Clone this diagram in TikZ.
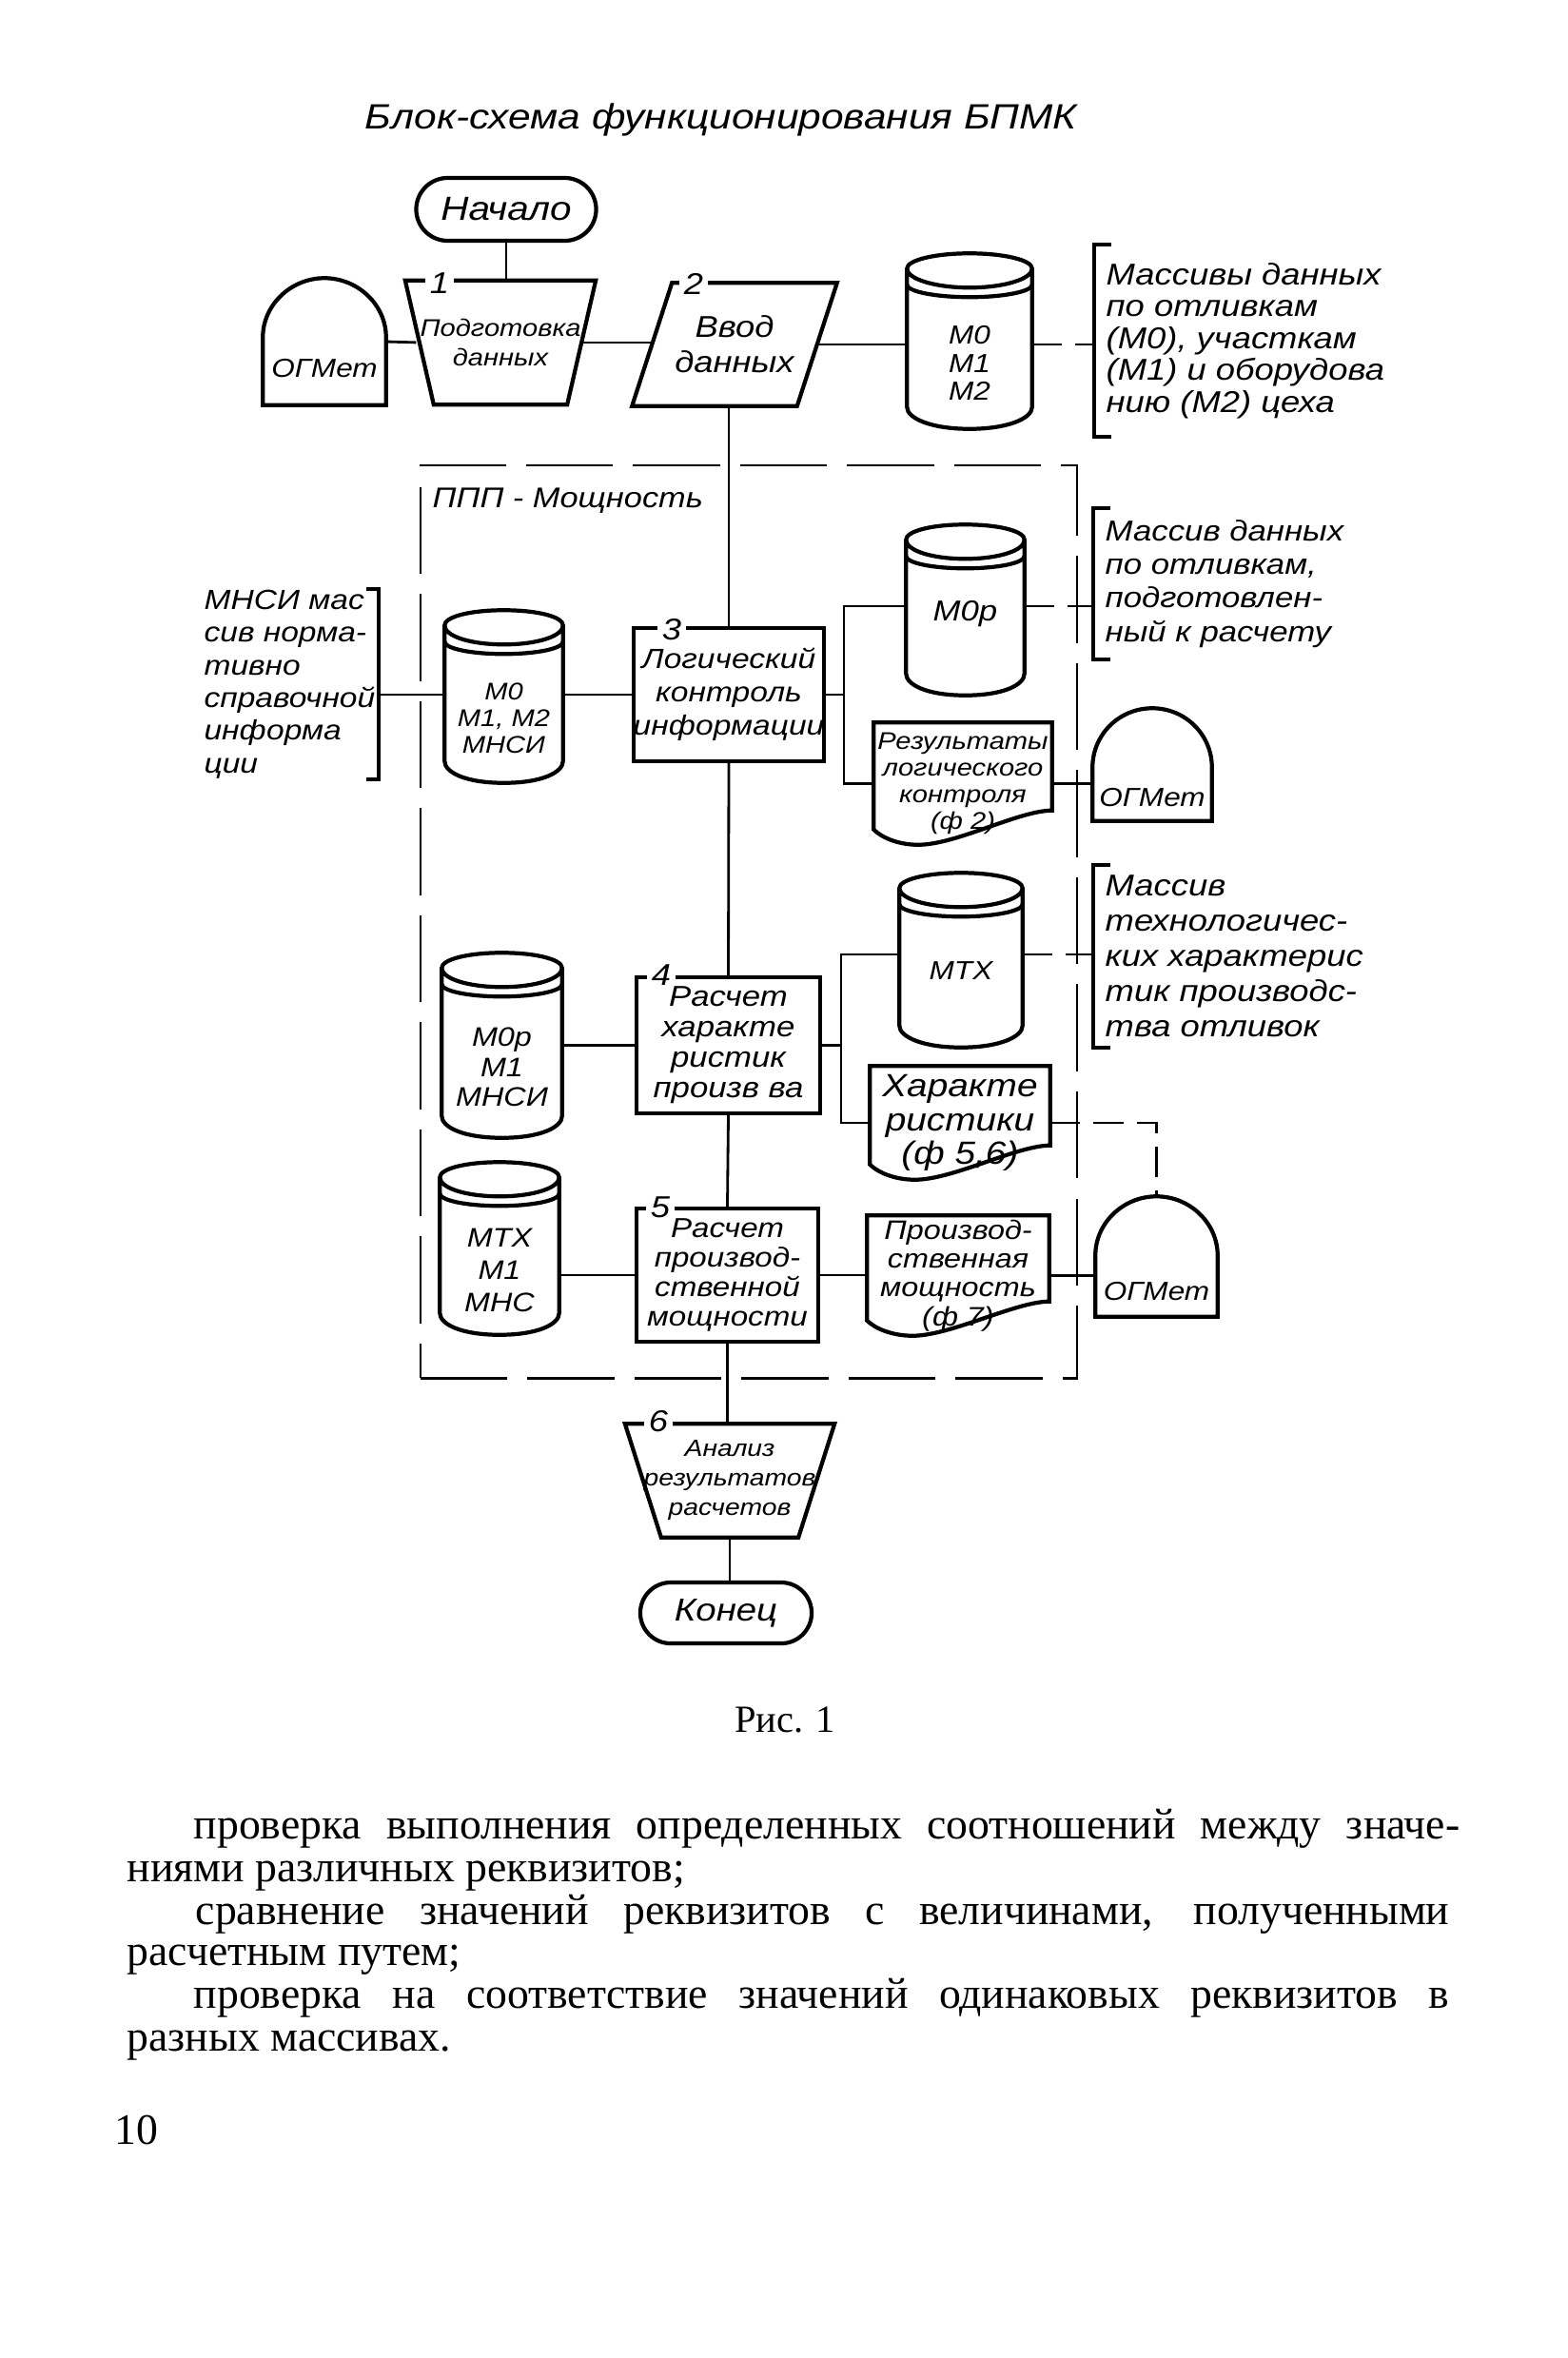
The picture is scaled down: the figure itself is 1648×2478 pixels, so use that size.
\documentclass[tikz,border=0pt]{standalone}
\usepackage{fontspec}
\setmainfont{Liberation Serif}
\newfontfamily\gostfont[FakeStretch=1.15]{Liberation Sans}
\usetikzlibrary{calc, positioning, shapes.misc}

\newcommand{\hf}[2]{\gostfont\itshape\fontsize{#1}{#2}\selectfont}

\tikzset{
  outline/.style={line width=1.2pt},
  link/.style={line width=0.8pt},
  dashlink/.style={line width=0.8pt, dash pattern=on 9pt off 4pt},
  bracket/.style={line width=1.1pt},
  pppbox/.style={draw, line width=0.7pt, dash pattern=on 26pt off 6pt},
  hand/.style={font=\hf{9.3}{10}},
  lines/.style={hand, align=center},
  term/.style={hand, draw, outline, rounded rectangle, font=\hf{10}{11}},
  proc/.style={lines, draw, outline},
  dome/.style={font=\hf{7.8}{9}, text depth=0pt},
  note/.style={align=left, inner xsep=0.12cm},
  num/.style={font=\hf{9}{10}, fill=white, inner xsep=1.5pt, inner ysep=0pt},
  body/.style={font=\fontsize{13}{15}\selectfont, anchor=base west},
}

\begin{document}
\begin{tikzpicture}[x=0.01cm, y=-0.01cm, every node/.style={inner sep=0pt}]
\useasboundingbox (0,0) rectangle (1648,2478);

\node[hand, font=\hf{10.5}{12}] (head) at (758,126) {Блок-схема функционирования БПМК};

% frame of the package
\node[pppbox, minimum width=6.90cm, minimum height=9.59cm] (ppp) at (787,968.5) {};
\node[hand, font=\hf{8.5}{10}, anchor=west] (ppptitle) at (454,526) {ППП - Мощность};

% top row
\node[term, minimum width=1.89cm, minimum height=0.66cm] (start) at (532,220) {Начало};
\node[lines, font=\hf{7.2}{9}, minimum width=1.55cm, minimum height=1.29cm] (b1) at (526,360) {Подготовка\\данных};
\node[lines, font=\hf{9}{10.5}, minimum width=1.72cm, minimum height=1.28cm] (b2) at (772,362) {Ввод\\данных};
\node[lines, font=\hf{7.8}{8.3}, minimum width=1.30cm, minimum height=1.37cm] (c1) at (1019,381.5) {М0\\М1\\М2};
\node[dome, text height=0.74cm, minimum width=1.28cm, minimum height=1.32cm] (og1) at (341,359) {ОГМет};
\node[note, hand, font=\hf{9}{9.5}, anchor=west, minimum height=2.0cm] (n1) at (1150,358)
  {Массивы данных\\по отливкам\\(М0), участкам\\(М1) и оборудова\\нию (М2) цеха};

% block 3
\node[note, hand, font=\hf{8.3}{9.8}, inner xsep=0.03cm, anchor=east] (mnsi) at (398,719)
  {МНСИ мас\\сив норма-\\тивно\\справочной\\информа\\ции};
\node[lines, font=\hf{7.2}{8}, minimum width=1.23cm, minimum height=1.34cm] (c2) at (529.5,755) {М0\\М1, М2\\МНСИ};
\node[proc, font=\hf{8.3}{10}, minimum width=1.90cm, minimum height=1.40cm] (b3) at (766,730) {Логический\\контроль\\информации};
\node[hand, font=\hf{8.6}{10}, text height=0.2cm, text depth=0.44cm, minimum width=1.23cm, minimum height=1.32cm] (mop) at (1014.5,664) {М0р};
\node[note, hand, font=\hf{8.6}{10}, anchor=west, minimum height=1.57cm] (n2) at (1149,613.5)
  {Массив данных\\по отливкам,\\подготовлен-\\ный к расчету};
\node[lines, font=\hf{7.2}{8}, minimum width=1.86cm, minimum height=1.27cm] (d1) at (1012,823.5) {Результаты\\логического\\контроля\\(ф 2)};
\node[dome, text height=0.87cm, minimum width=1.24cm, minimum height=1.17cm] (og2) at (1211,803.5) {ОГМет};

% block 4
\node[lines, font=\hf{8}{9}, minimum width=1.25cm, minimum height=1.47cm] (c3) at (527.5,1121.5) {М0р\\М1\\МНСИ};
\node[proc, font=\hf{8.6}{9.1}, minimum width=1.93cm, minimum height=1.43cm] (b4) at (765.5,1098.5) {Расчет\\характе\\ристик\\произв ва};
\node[hand, font=\hf{7.8}{9}, text height=0.2cm, text depth=0.26cm, minimum width=1.28cm, minimum height=1.36cm] (mtx) at (1010,1032) {МТХ};
\node[note, hand, font=\hf{9}{10.5}, anchor=west, minimum height=1.90cm] (n3) at (1149,1005)
  {Массив\\технологичес-\\ких характерис\\тик производс-\\тва отливок};
\node[lines, font=\hf{9.6}{10.2}, minimum width=1.88cm, minimum height=1.18cm] (d2) at (1009,1180) {Характе\\ристики\\(ф 5,6)};

% block 5
\node[lines, font=\hf{8}{9.7}, minimum width=1.24cm, minimum height=1.34cm] (c4) at (525,1335) {МТХ\\М1\\МНС};
\node[proc, font=\hf{8.2}{8.8}, minimum width=1.91cm, minimum height=1.40cm] (b5) at (764.5,1340) {Расчет\\производ-\\ственной\\мощности};
\node[lines, font=\hf{8}{8.6}, minimum width=1.90cm, minimum height=1.25cm] (d3) at (1007,1340.5) {Производ-\\ственная\\мощность\\(ф 7)};
\node[dome, text height=0.91cm, minimum width=1.27cm, minimum height=1.25cm] (og3) at (1215.5,1320.5) {ОГМет};

% exit
\node[lines, font=\hf{7}{8.8}, minimum width=1.715cm, minimum height=1.18cm] (b6) at (767,1556) {Анализ\\результатов\\расчетов};
\node[term, font=\hf{9.5}{11}, minimum width=1.80cm, minimum height=0.64cm] (stop) at (763,1695) {Конец};

% outlines
\foreach \n/\dx in {b1/15, b6/19}
  \draw[outline] ($(\n.north west)+(-\dx,0)$) -- ($(\n.north east)+(\dx,0)$)
    -- ($(\n.south east)+(-\dx,0)$) -- ($(\n.south west)+(\dx,0)$) -- cycle;
\draw[outline] ($(b2.north west)+(21,0)$) -- ($(b2.north east)+(21,0)$)
  -- ($(b2.south east)+(-21,0)$) -- ($(b2.south west)+(-21,0)$) -- cycle;
\foreach \n in {c1,c2,c3,c4,mop,mtx}{
  \draw[outline] ($(\n.north west)+(0,-30)$) -- ($(\n.south west)+(0,-23)$)
    .. controls +(0,12) and +(-40,0) .. (\n.south)
    .. controls +(40,0) and +(0,12) .. ($(\n.south east)+(0,-23)$)
    -- ($(\n.north east)+(0,-30)$)
    .. controls +(0,-9) and +(36,0) .. ($(\n.north)+(0,-46)$)
    .. controls +(-36,0) and +(0,-9) .. ($(\n.north west)+(0,-30)$)
    .. controls +(0,11) and +(-36,0) .. ($(\n.north)+(0,-10)$)
    .. controls +(36,0) and +(0,11) .. ($(\n.north east)+(0,-30)$);
  \draw[outline] ($(\n.north west)+(0,-13)$) .. controls +(0,7) and +(-36,0) .. (\n.north)
    .. controls +(36,0) and +(0,7) .. ($(\n.north east)+(0,-13)$);
}
\foreach \n in {og1,og2,og3}
  \draw[outline] (\n.south west) -- ($(\n.north west)+(0,62)$)
    .. controls +(0,-34) and +(-35,0) .. (\n.north)
    .. controls +(35,0) and +(0,-34) .. ($(\n.north east)+(0,62)$)
    -- (\n.south east) -- cycle;
\foreach \n in {d1,d2,d3}
  \draw[outline] ($(\n.south west)+(0,-16)$) -- (\n.north west) -- (\n.north east)
    -- ($(\n.south east)+(0,-36)$)
    .. controls +(-35,0) and +(40,0) .. ($(\n.south west)!0.25!(\n.south east)$)
    .. controls +(-22,0) and +(8,8) .. ($(\n.south west)+(0,-16)$) -- cycle;
\foreach \n in {n1,n2,n3}
  \draw[bracket] ($(\n.north west)+(18,0)$) -- (\n.north west) -- (\n.south west) -- ($(\n.south west)+(18,0)$);
\draw[bracket] ($(mnsi.north east)+(-13,0)$) -- (mnsi.north east) -- (mnsi.south east) -- ($(mnsi.south east)+(-13,0)$);

% block numbers
\node[num] (k1) at (462,298) {1};
\node[num] (k2) at (729,298) {2};
\node[num] (k3) at (706,662) {3};
\node[num] (k4) at (695,1025) {4};
\node[num] (k5) at (694,1269) {5};
\node[num] (k6) at (692,1494) {6};

% connections
\draw[link] (start.south) -- (start.south |- b1.north);
\draw[dashlink] (og1.east) -- (b1.west);
\draw[link] (b1.east) -- (b1.east -| b2.west);
\draw[link] (b2.east) -- (b2.east -| c1.west);
\draw[dashlink] (c1.east |- b2.east) -- (n1.west |- b2.east);
\draw[link] (b2.south -| b3.north) -- (b3.north);
\draw[link] (mnsi.east |- b3.west) -- (c2.west |- b3.west);
\draw[link] (c2.east |- b3.west) -- (b3.west);
\coordinate (f3) at (887,637);
\draw[link] (b3.east) -- (b3.east -| f3);
\draw[link] (mop.west |- f3) -- (f3) -- (f3 |- d1.west) -- (d1.west);
\draw[dashlink] (mop.east |- f3) -- (n2.west |- f3);
\draw[link] (d1.east) -- (d1.east -| og2.west);
\draw[link] (b3.south) -- (b4.north);
\draw[link] (c3.east |- b4.west) -- (b4.west);
\coordinate (f4) at (884,1003);
\draw[link] (b4.east) -- (b4.east -| f4);
\draw[link] (mtx.west |- f4) -- (f4) -- (f4 |- d2.west) -- (d2.west);
\draw[dashlink] (mtx.east |- f4) -- (n3.west |- f4);
\draw[dashlink] (d2.east) -- (d2.east -| og3.north) -- (og3.north);
\draw[link] (b4.south) -- (b5.north);
\draw[link] (c4.east |- b5.west) -- (b5.west);
\draw[link] (b5.east) -- (b5.east -| d3.west);
\draw[link] (d3.east) -- (d3.east -| og3.west);
\draw[link] (b5.south) -- (b5.south |- b6.north);
\draw[link] (b6.south) -- (b6.south |- stop.north);

\node[anchor=base, font=\fontsize{11.5}{13}\selectfont] (caption) at (825,1820) {Рис. 1};

% page text
\node[body] (t1) at (203,1932) {\makebox[13.30cm][s]{проверка выполнения определенных соотношений между значе-}};
\node[body] (t2) at (133,1977) {ниями различных реквизитов;};
\node[body] (t3) at (205,2022) {\makebox[13.17cm][s]{сравнение значений реквизитов с величинами, полученными}};
\node[body] (t4) at (133,2065) {расчетным путем;};
\node[body] (t5) at (203,2110) {\makebox[13.19cm][s]{проверка на соответствие значений одинаковых реквизитов в}};
\node[body] (t6) at (133,2155) {разных массивах.};
\node[body] (pagenum) at (120,2253) {10};
\end{tikzpicture}
\end{document}
